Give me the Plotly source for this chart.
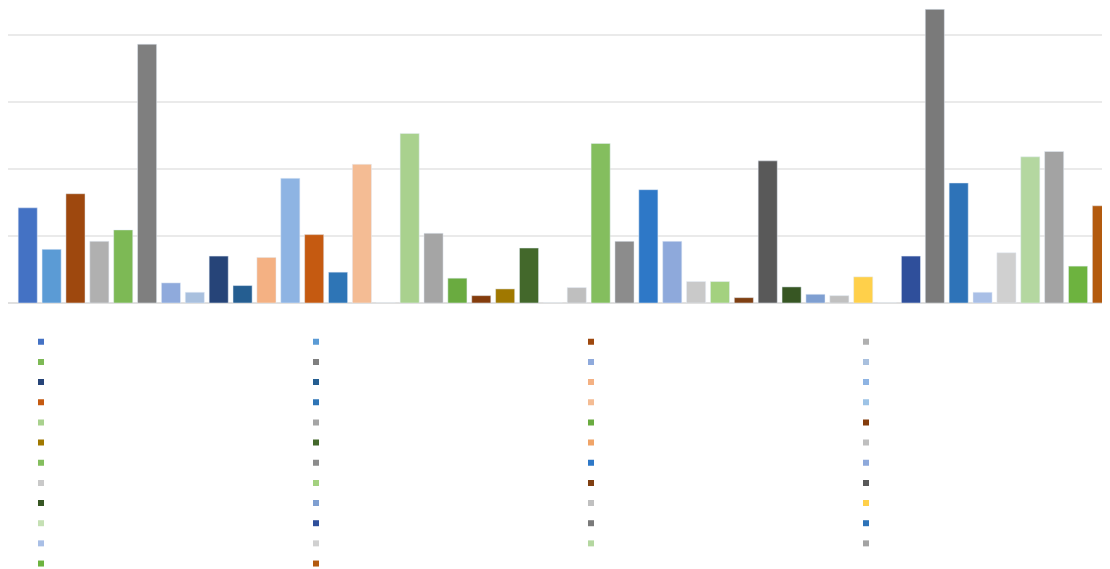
import plotly.graph_objects as go

category = [""]
series_names = [" "] * 46
values = [14.2, 8.0, 16.3, 9.2, 10.9, 38.6, 3.0, 1.6, 7.0, 2.6, 6.8, 18.6, 10.2, 4.6, 20.7, 0,
          25.3, 10.4, 3.7, 1.1, 2.1, 8.2, 0,
          2.3, 23.8, 9.2, 16.9, 9.2, 3.2, 3.2, 0.8, 21.2, 2.4, 1.3, 1.1, 3.9, 0,
          7.0, 43.8, 17.9, 1.6, 7.5, 21.8, 22.6, 5.5, 14.5]
colors = ["#4472C4", "#5B9BD5", "#9E480E", "#B0B0B0", "#7DB955", "#7F7F7F", "#8FAADC", "#A9C0DE",
          "#264478", "#255E91", "#F4B183", "#8EB4E3", "#C55A11", "#2E75B6", "#F4BC94", "#9DC3E6",
          "#A9D18E", "#A5A5A5", "#6AAB40", "#843C0C", "#A07800", "#43682B", "#F0A468",
          "#BFBFBF", "#84BE5E", "#8C8C8C", "#2E78C7", "#8EA9DB", "#C9C9C9", "#A3D17F", "#7F3F12",
          "#595959", "#375623", "#7F9FD1", "#C0C0C0", "#FFD04A", "#C5E0B4",
          "#2F4F9B", "#7A7A7A", "#2E73B8", "#A9BFE6", "#D0D0D0", "#B4D7A0", "#A3A3A3", "#6DB33F", "#B35A0E"]

fig = go.Figure()
for nm, v, c in zip(series_names, values, colors):
    fig.add_trace(go.Bar(x=category, y=[v], name=nm, marker_color=c, showlegend=False))
for nm, c in zip(series_names, colors):
    fig.add_trace(go.Scatter(x=[None], y=[None], mode="markers", name=nm,
                             marker=dict(symbol="square", size=6, color=c),
                             showlegend=True))

fig.update_layout(
    width=1102, height=561,
    margin=dict(l=0, r=0, t=0, b=265.7, autoexpand=False),
    paper_bgcolor="white", plot_bgcolor="white",
    barmode="group", bargap=0, bargroupgap=0.2,
    xaxis=dict(range=[-0.5071, 0.4965], showticklabels=False, showgrid=False,
               zeroline=False, showline=False, ticks=""),
    yaxis=dict(range=[0, 44.0], dtick=10, showticklabels=False, showgrid=True,
               gridcolor="#EAEAEA", gridwidth=1.5, zeroline=True, zerolinecolor="#E0E0E0",
               zerolinewidth=1.5, ticks=""),
    legend=dict(orientation="h", x=0.0118, xanchor="left", y=-0.0803, yanchor="top",
                entrywidth=230, entrywidthmode="pixels", font=dict(size=13.2),
                tracegroupgap=0, bgcolor="rgba(0,0,0,0)"),
    showlegend=True,
)
fig.write_html("out.html")
